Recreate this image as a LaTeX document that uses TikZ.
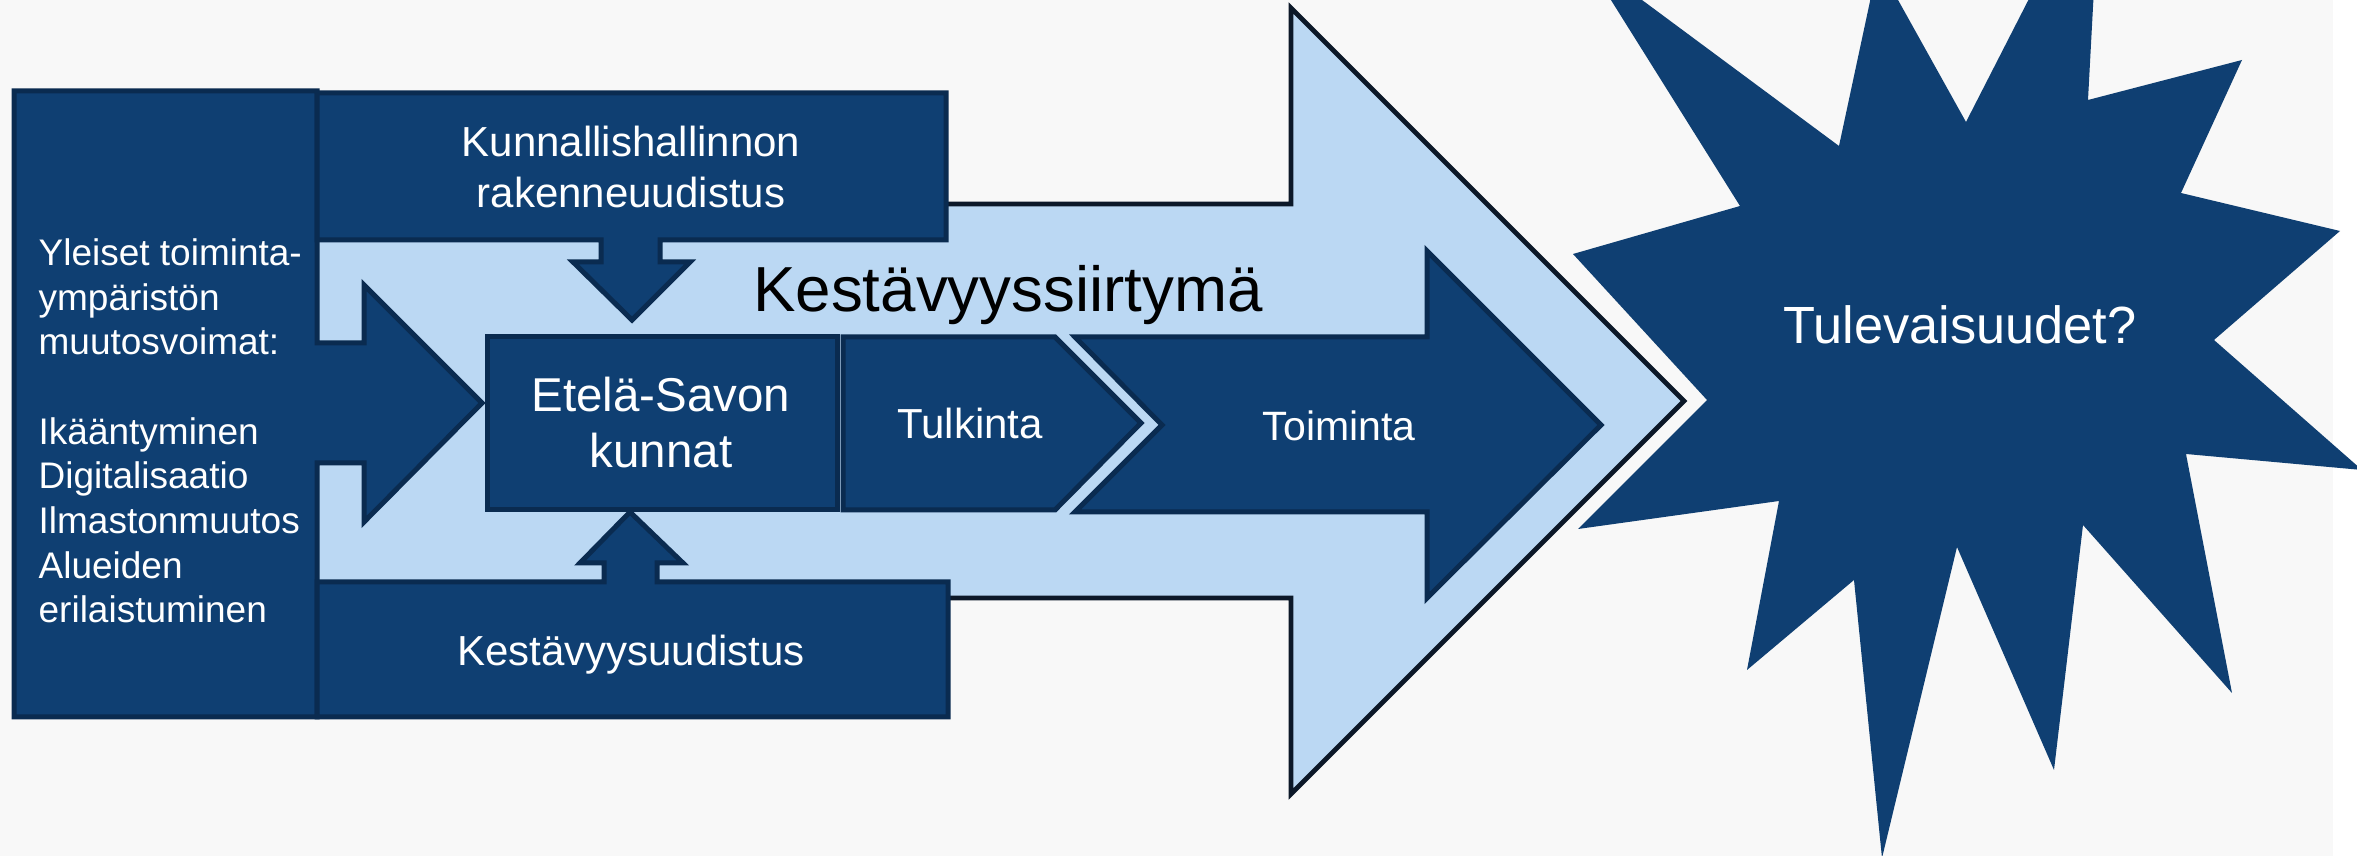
\documentclass[tikz,border=0pt]{standalone}
\usepackage{fontspec}
\setmainfont{Liberation Sans}
\definecolor{dblue}{HTML}{0F3F72}
\definecolor{dline}{HTML}{0A2B50}
\definecolor{lblue}{HTML}{BBD8F3}
\definecolor{aline}{HTML}{0C1828}
\definecolor{bgc}{HTML}{F8F8F8}
\begin{document}
\begin{tikzpicture}[x=0.3pt,y=-0.3pt,
  darkshape/.style={fill=dblue,draw=dline,line width=1.5pt,line join=miter},
  bigarrow/.style={fill=lblue,draw=aline,line width=1.4pt,line join=miter},
  wtext/.style={text=white,inner sep=0pt},
  btext/.style={text=black,inner sep=0pt}]
\useasboundingbox (0,0) rectangle (2357,856);
\fill[bgc] (0,0) rectangle (2357,856);
\fill[white] (2333,0) rectangle (2357,856);
% star
\begin{scope}
\clip (0,0) rectangle (2357,856);
\fill[dblue] (1584,-43) -- (1839,146) -- (1878,-36) -- (1966,122) -- (2101,-142) -- (2088,100)
  -- (2242,60) -- (2181,193) -- (2340,231) -- (2214,340) -- (2362,470) -- (2186,454)
  -- (2232,693) -- (2083,525) -- (2054,770) -- (1957,547) -- (1882,858) -- (1854,580)
  -- (1747,670) -- (1779,501) -- (1578,529) -- (1707,400) -- (1573,254) -- (1740,206) -- cycle;
\end{scope}
% big light arrow
\draw[bigarrow] (300,204) -- (1291,204) -- (1291,8) -- (1684,401) -- (1291,794) -- (1291,598) -- (300,598) -- cycle;
% left column with arrow
\draw[darkshape] (14,91) -- (317,91) -- (317,343) -- (364,343) -- (364,285) -- (482,403) -- (364,522) -- (364,463) -- (317,463) -- (317,717) -- (14,717) -- cycle;
% top box with down arrow
\draw[darkshape] (317,93) -- (946,93) -- (946,240) -- (660,240) -- (660,262) -- (690,262) -- (632,320) -- (573,262) -- (601,262) -- (601,240) -- (317,240) -- cycle;
% bottom box with up arrow
\draw[darkshape] (317,582) -- (604,582) -- (604,563) -- (580,563) -- (630,512) -- (683,563) -- (657,563) -- (657,582) -- (948,582) -- (948,717) -- (317,717) -- cycle;
% Etela-Savon box
\draw[darkshape] (487,337) rectangle (837,510);
% Tulkinta chevron
\draw[darkshape] (843,337) -- (1055,337) -- (1141,423) -- (1055,510) -- (843,510) -- cycle;
% Toiminta arrow
\draw[darkshape] (1075,337) -- (1427,337) -- (1427,251) -- (1601,425) -- (1427,598) -- (1427,512) -- (1075,512) -- (1162,425) -- cycle;
% texts (base anchor of multi-line nodes = last line's baseline)
\node[wtext,anchor=base west,align=left,font=\fontsize{11.1}{13.4}\selectfont] (forces) at (38,623)
  {Yleiset toiminta-\\ympäristön\\muutosvoimat:\\[13.4pt]Ikääntyminen\\Digitalisaatio\\Ilmastonmuutos\\Alueiden\\erilaistuminen};
\node[wtext,anchor=base,align=center,font=\fontsize{12.6}{15.3}\selectfont] (kunta) at (631,208) {Kunnallishallinnon\\rakenneuudistus};
\node[wtext,anchor=base,font=\fontsize{12.6}{15.3}\selectfont] (kestu) at (631,666) {Kestävyysuudistus};
\node[wtext,anchor=base,align=center,font=\fontsize{14.25}{16.8}\selectfont] (etela) at (661,468) {Etelä-Savon\\kunnat};
\node[wtext,anchor=base,font=\fontsize{12.6}{15}\selectfont] (tulk) at (970,439) {Tulkinta};
\node[wtext,anchor=base,font=\fontsize{12.3}{15}\selectfont] (toim) at (1339,441) {Toiminta};
\node[btext,anchor=base,font=\fontsize{19.1}{22}\selectfont] (siirt) at (1008,312) {Kestävyyssiirtymä};
\node[wtext,anchor=base,font=\fontsize{15.7}{19}\selectfont] (tulev) at (1960,344) {Tulevaisuudet?};
\end{tikzpicture}
\end{document}
